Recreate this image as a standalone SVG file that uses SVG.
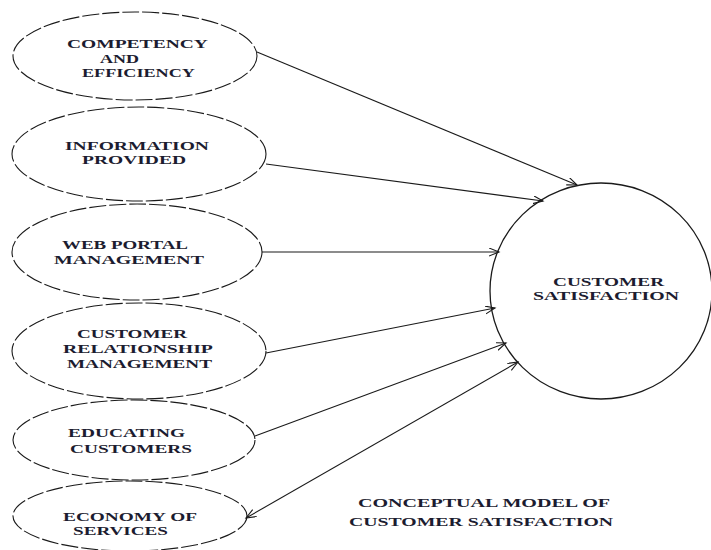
<svg xmlns="http://www.w3.org/2000/svg" width="711" height="550" viewBox="0 0 711 550">
<style>
.bg{fill:#ffffff}
.oval{fill:none;stroke:#1a1a1a;stroke-width:1.1;stroke-dasharray:17 3}
.circ{fill:none;stroke:#1a1a1a;stroke-width:1.3}
.lab{font-family:"Liberation Serif","Times New Roman",serif;font-weight:bold;font-size:13px;fill:#1c1c30}
.conn{stroke:#1a1a1a;stroke-width:1.1;fill:none}
</style>
<defs>
<marker id="arr" markerUnits="userSpaceOnUse" markerWidth="12" markerHeight="10" refX="10" refY="4" orient="auto-start-reverse">
<path d="M0,0 L10,4 L0,8" fill="none" stroke="#1a1a1a" stroke-width="1.1"/>
</marker>
</defs>
<rect class="bg" x="0" y="0" width="711" height="550"/>

<g id="connectors">
<line class="conn" x1="257" y1="52" x2="577" y2="185" marker-end="url(#arr)"/>
<line class="conn" x1="266" y1="164" x2="543" y2="201" marker-end="url(#arr)"/>
<line class="conn" x1="262" y1="252" x2="499" y2="252" marker-end="url(#arr)"/>
<line class="conn" x1="266" y1="353" x2="495" y2="308" marker-end="url(#arr)"/>
<line class="conn" x1="255" y1="436" x2="506" y2="343" marker-end="url(#arr)"/>
<line class="conn" x1="246" y1="518" x2="518" y2="362" marker-start="url(#arr)" marker-end="url(#arr)"/>
</g>

<g id="n1">
<ellipse class="oval" cx="135" cy="56" rx="122" ry="44"/>
<text class="lab" transform="translate(67,48) scale(1.45,1)" textLength="97.2" lengthAdjust="spacingAndGlyphs">COMPETENCY</text>
<text class="lab" transform="translate(100,63) scale(1.45,1)" textLength="26.9" lengthAdjust="spacingAndGlyphs">AND</text>
<text class="lab" transform="translate(82,77) scale(1.45,1)" textLength="77.9" lengthAdjust="spacingAndGlyphs">EFFICIENCY</text>
</g>

<g id="n2">
<ellipse class="oval" cx="139" cy="154" rx="127" ry="47"/>
<text class="lab" transform="translate(65,150) scale(1.45,1)" textLength="99.3" lengthAdjust="spacingAndGlyphs">INFORMATION</text>
<text class="lab" transform="translate(82,164) scale(1.45,1)" textLength="71.7" lengthAdjust="spacingAndGlyphs">PROVIDED</text>
</g>

<g id="n3">
<ellipse class="oval" cx="137" cy="252" rx="125" ry="48"/>
<text class="lab" transform="translate(62,249) scale(1.45,1)" textLength="86.9" lengthAdjust="spacingAndGlyphs">WEB PORTAL</text>
<text class="lab" transform="translate(54,264) scale(1.45,1)" textLength="103.4" lengthAdjust="spacingAndGlyphs">MANAGEMENT</text>
</g>

<g id="n4">
<ellipse class="oval" cx="139" cy="351" rx="127" ry="48"/>
<text class="lab" transform="translate(77,338) scale(1.45,1)" textLength="75.9" lengthAdjust="spacingAndGlyphs">CUSTOMER</text>
<text class="lab" transform="translate(63,353) scale(1.45,1)" textLength="103.4" lengthAdjust="spacingAndGlyphs">RELATIONSHIP</text>
<text class="lab" transform="translate(67,368) scale(1.45,1)" textLength="100" lengthAdjust="spacingAndGlyphs">MANAGEMENT</text>
</g>

<g id="n5">
<ellipse class="oval" cx="134" cy="440" rx="121" ry="40"/>
<text class="lab" transform="translate(68,437) scale(1.45,1)" textLength="80.7" lengthAdjust="spacingAndGlyphs">EDUCATING</text>
<text class="lab" transform="translate(70,453) scale(1.45,1)" textLength="84.1" lengthAdjust="spacingAndGlyphs">CUSTOMERS</text>
</g>

<g id="n6">
<ellipse class="oval" cx="130" cy="516" rx="117" ry="35"/>
<text class="lab" transform="translate(63,521) scale(1.45,1)" textLength="92.4" lengthAdjust="spacingAndGlyphs">ECONOMY OF</text>
<text class="lab" transform="translate(73,535) scale(1.45,1)" textLength="65.5" lengthAdjust="spacingAndGlyphs">SERVICES</text>
</g>

<g id="target">
<ellipse class="circ" cx="601" cy="291" rx="111" ry="108"/>
<text class="lab" transform="translate(553,286) scale(1.45,1)" textLength="76.6" lengthAdjust="spacingAndGlyphs">CUSTOMER</text>
<text class="lab" transform="translate(533,300) scale(1.45,1)" textLength="100.7" lengthAdjust="spacingAndGlyphs">SATISFACTION</text>
</g>

<g id="caption">
<text class="lab" transform="translate(358,507) scale(1.45,1)" textLength="173.8" lengthAdjust="spacingAndGlyphs">CONCEPTUAL MODEL OF</text>
<text class="lab" transform="translate(349,526) scale(1.45,1)" textLength="182.1" lengthAdjust="spacingAndGlyphs">CUSTOMER SATISFACTION</text>
</g>
</svg>
